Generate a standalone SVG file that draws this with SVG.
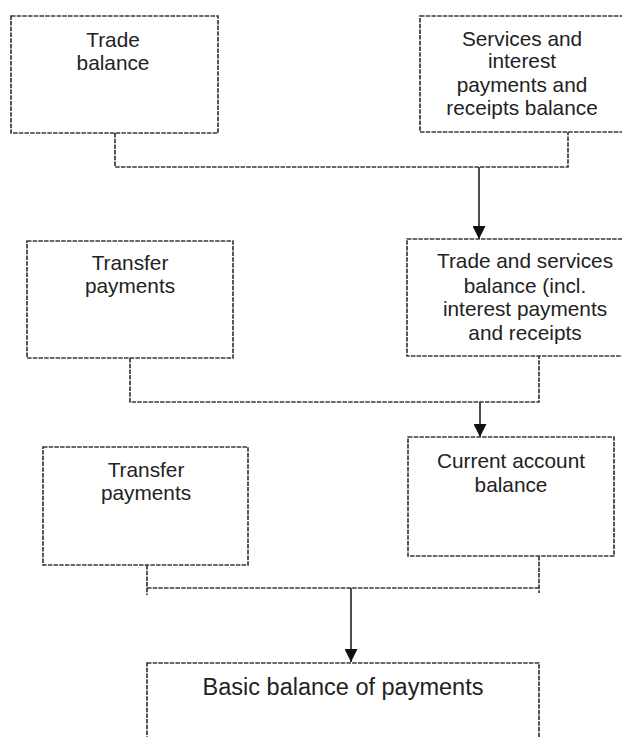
<svg xmlns="http://www.w3.org/2000/svg" width="622" height="737" viewBox="0 0 622 737">
<style>
.box{fill:#fff;stroke:#3a3a3a;stroke-width:1.7;stroke-dasharray:4.5 1.2}
.con{fill:none;stroke:#3a3a3a;stroke-width:1.7;stroke-dasharray:4.5 1.2}
.arr{fill:none;stroke:#222;stroke-width:1.6}
text{font-family:"Liberation Sans",Arial,sans-serif;font-size:20.8px;fill:#222;text-anchor:middle}
.big{font-size:23.5px}
</style>
<defs>
<marker id="ah" viewBox="0 0 13 13" markerWidth="13" markerHeight="13" refX="13" refY="6.5" orient="auto" markerUnits="userSpaceOnUse">
<path d="M0 0 L13 6.5 L0 13 Z" fill="#111"/>
</marker>
</defs>
<rect width="622" height="737" fill="#fff"/>
<g id="connectors">
<path class="con" d="M115 133 V167 H568 V132"/>
<path class="arr" d="M479 167 V239" marker-end="url(#ah)"/>
<path class="con" d="M130 358 V402 H539 V356"/>
<path class="arr" d="M480 402 V437" marker-end="url(#ah)"/>
<path class="con" d="M147 565 V595 M147 588 H539 M539 556 V593"/>
<path class="arr" d="M351 588 V662" marker-end="url(#ah)"/>
</g>
<g id="trade-balance">
<rect class="box" x="11" y="16" width="207" height="117"/>
<text x="113" y="47">Trade</text>
<text x="113" y="70">balance</text>
</g>
<g id="services-balance">
<rect class="box" x="420" y="16" width="215" height="116"/>
<text x="522" y="46">Services and</text>
<text x="522" y="68">interest</text>
<text x="522" y="92">payments and</text>
<text x="522" y="115">receipts balance</text>
</g>
<g id="transfer-payments-1">
<rect class="box" x="27" y="241" width="206" height="117"/>
<text x="130" y="270">Transfer</text>
<text x="130" y="293">payments</text>
</g>
<g id="trade-services-balance">
<rect class="box" x="407" y="239" width="225" height="117"/>
<text x="525" y="268">Trade and services</text>
<text x="525" y="293">balance (incl.</text>
<text x="525" y="316">interest payments</text>
<text x="525" y="340">and receipts</text>
</g>
<g id="transfer-payments-2">
<rect class="box" x="43" y="447" width="205" height="118"/>
<text x="146" y="477">Transfer</text>
<text x="146" y="500">payments</text>
</g>
<g id="current-account">
<rect class="box" x="408" y="437" width="206" height="119"/>
<text x="511" y="468">Current account</text>
<text x="511" y="492">balance</text>
</g>
<g id="basic-balance">
<rect class="box" x="147" y="663" width="392" height="100"/>
<text class="big" x="343" y="695">Basic balance of payments</text>
</g>
</svg>
